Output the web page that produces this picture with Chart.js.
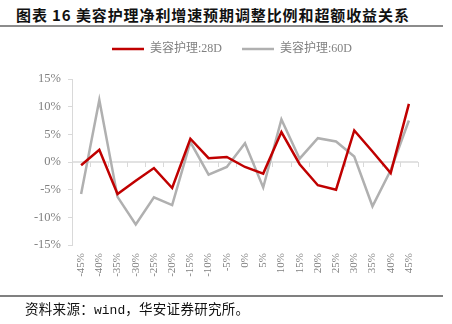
<!DOCTYPE html>
<html>
<head>
<meta charset="utf-8">
<script src="https://cdn.jsdelivr.net/npm/chart.js@4"></script>
<style>
  html, body { margin: 0; padding: 0; background: #fff; }
  #wrap { position: relative; width: 452px; height: 324px; overflow: hidden; }
  #title { position: absolute; left: 16px; top: 4px; font: 700 15px 'Noto Sans CJK SC', sans-serif; color: #111; letter-spacing: 0.9px; white-space: nowrap; }
  #topLine { position: absolute; left: 0; top: 25px; width: 443px; height: 1.5px; background: #8c8c8c; }
  #bottomLine { position: absolute; left: 0; top: 295px; width: 443px; height: 2px; background: #808080; }
  #source { position: absolute; left: 25px; top: 298px; font: 13.5px 'Noto Sans CJK SC', sans-serif; color: #111; white-space: nowrap; letter-spacing: 0.3px; }
  #source span { font-family: 'Liberation Mono', monospace; font-size: 13px; letter-spacing: 0; }
  canvas { position: absolute; left: 0; top: 0; }
</style>
</head>
<body>
<div id="wrap">
  <div id="title">图表 16 美容护理净利增速预期调整比例和超额收益关系</div>
  <div id="topLine"></div>
  <canvas id="chart" width="452" height="324"></canvas>
  <div id="bottomLine"></div>
  <div id="source">资料来源：<span>wind</span>，华安证券研究所。</div>
</div>
<script>
// x categories (adjustment ratio)
const categories = ['-45%', '-40%', '-35%', '-30%', '-25%', '-20%', '-15%', '-10%', '-5%', '0%',
                    '5%', '10%', '15%', '20%', '25%', '30%', '35%', '40%', '45%'];
// excess return, %
const beauty28D = [-0.6, 2.2, -5.8, -3.4, -1.1, -4.7, 4.2, 0.7, 0.9, -0.9,
                   -2.1, 5.4, -0.4, -4.2, -5.0, 5.7, 1.9, -2.0, 10.5];
const beauty60D = [-5.8, 11.2, -6.3, -11.3, -6.4, -7.8, 3.6, -2.3, -0.9, 3.4,
                   -4.6, 7.7, 0.6, 4.3, 3.7, 1.0, -8.0, -1.5, 7.5];
const yMin = -15, yMax = 15, yStep = 5;

const serif = "'Liberation Serif', 'Noto Sans CJK SC', serif";
const axisGrey = '#d9d9d9';
const textGrey = '#808080';

// zero line with small tick marks between categories (drawn under the lines)
const zeroLine = {
    id: 'zeroLine',
    beforeDatasetsDraw(chart) {
        const { ctx, chartArea, scales: { x, y } } = chart;
        const y0 = y.getPixelForValue(0);
        ctx.save();
        ctx.strokeStyle = axisGrey;
        ctx.lineWidth = 1.5;
        ctx.beginPath();
        ctx.moveTo(chartArea.left, y0);
        ctx.lineTo(chartArea.right, y0);
        ctx.stroke();
        ctx.lineWidth = 1;
        ctx.beginPath();
        for (let i = 0; i <= categories.length; i++) {
            const px = Math.round(x.getPixelForValue(i - 0.5)) + 0.5;
            ctx.moveTo(px, y0);
            ctx.lineTo(px, y0 + 5);
        }
        ctx.stroke();
        ctx.restore();
    }
};

// make the legend block taller so the plot starts lower
const legendHeight = {
    id: 'legendHeight',
    afterInit(chart) {
        const lg = chart.legend;
        if (!lg) return;
        const fit = lg.fit;
        lg.fit = function () {
            fit.call(this);
            this.height = 56;
        };
    }
};

new Chart(document.getElementById('chart'), {
    type: 'line',
    data: {
        labels: categories,
        datasets: [
            {
                label: '美容护理:28D',
                data: beauty28D,
                borderColor: '#c00000',
                backgroundColor: '#c00000',
                borderWidth: 2.5,
                pointRadius: 0,
                tension: 0
            },
            {
                label: '美容护理:60D',
                data: beauty60D,
                borderColor: '#b0b0b0',
                backgroundColor: '#b0b0b0',
                borderWidth: 2.5,
                pointRadius: 0,
                tension: 0
            }
        ]
    },
    options: {
        responsive: false,
        animation: false,
        devicePixelRatio: 1,
        layout: { padding: { left: 12, right: 0, top: 23, bottom: 0 } },
        plugins: {
            tooltip: { enabled: false },
            legend: {
                position: 'top',
                labels: {
                    usePointStyle: true,
                    pointStyle: 'line',
                    pointStyleWidth: 32,
                    padding: 20,
                    color: textGrey,
                    font: { family: serif, size: 12 }
                }
            }
        },
        scales: {
            x: {
                offset: true,
                grid: { display: false, drawTicks: false },
                border: { display: false },
                ticks: {
                    autoSkip: false,
                    minRotation: 90,
                    maxRotation: 90,
                    padding: 8,
                    color: textGrey,
                    font: { family: serif, size: 11 }
                },
                afterFit(scale) { scale.height = 79; }
            },
            y: {
                min: yMin,
                max: yMax,
                grid: { drawOnChartArea: false, drawTicks: true, tickLength: 4, color: axisGrey },
                border: { display: true, color: axisGrey, width: 1 },
                ticks: {
                    stepSize: yStep,
                    padding: 7,
                    color: textGrey,
                    font: { family: serif, size: 12.5 },
                    callback: v => v + '%'
                },
                afterFit(scale) { scale.width = 60; }
            },
            // empty right-hand margin
            yPad: {
                type: 'linear',
                position: 'right',
                grid: { display: false },
                border: { display: false },
                ticks: { display: false },
                afterFit(scale) { scale.width = 34; }
            }
        }
    },
    plugins: [zeroLine, legendHeight]
});
</script>
</body>
</html>
